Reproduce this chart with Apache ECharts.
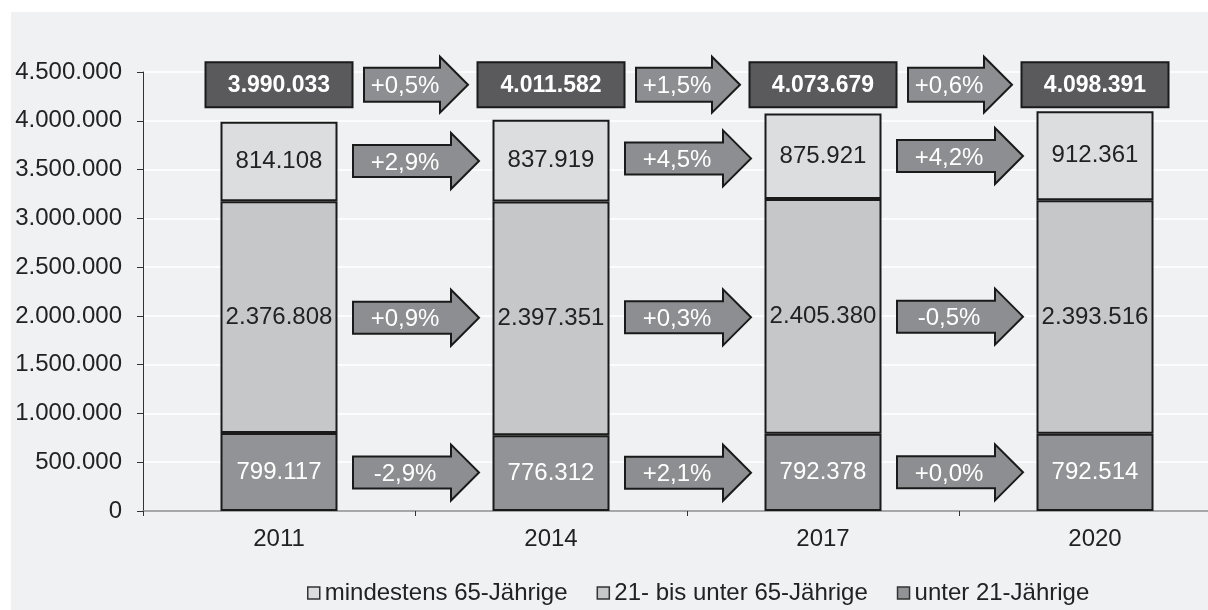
<!DOCTYPE html>
<html><head><meta charset="utf-8">
<script src="https://cdn.jsdelivr.net/npm/echarts@6/dist/echarts.min.js"></script>
<style>html,body{margin:0;padding:0;background:#fff}#c{width:1208px;height:610px}</style>
</head><body><div id="c"></div>
<script>
const years = ['2011', '2014', '2017', '2020'];
const unter21 = [799117, 776312, 792378, 792514];
const mitte = [2376808, 2397351, 2405380, 2393516];
const senioren = [814108, 837919, 875921, 912361];
const totals = [3990033, 4011582, 4073679, 4098391];
const changeTotal = ['+0,5%', '+1,5%', '+0,6%'];
const changeSenioren = ['+2,9%', '+4,5%', '+4,2%'];
const changeMitte = ['+0,9%', '+0,3%', '-0,5%'];
const changeUnter21 = ['-2,9%', '+2,1%', '+0,0%'];
const seriesNames = ['mindestens 65-Jährige', '21- bis unter 65-Jährige', 'unter 21-Jährige'];

const FONT = '"Liberation Sans", Arial, sans-serif';
const TOTAL_ROW = 4370000;
function fmt(v) { return String(Math.round(v)).replace(/\B(?=(\d{3})+(?!\d))/g, '.'); }

// arrow rows: y value = midpoint of segment averaged between adjacent bars
const arrowData = [];
for (let i = 0; i < 3; i++) {
  const m = j => unter21[j] / 2;
  arrowData.push([i, (m(i) + m(i + 1)) / 2, changeUnter21[i], 0]);
  const mm = j => unter21[j] + mitte[j] / 2;
  arrowData.push([i, (mm(i) + mm(i + 1)) / 2, changeMitte[i], 0]);
  const ms = j => unter21[j] + mitte[j] + senioren[j] / 2;
  arrowData.push([i, (ms(i) + ms(i + 1)) / 2, changeSenioren[i], 0]);
  arrowData.push([i, TOTAL_ROW, changeTotal[i], 1]);
}
const totalData = totals.map((t, i) => [i, TOTAL_ROW, fmt(t)]);

function arrowItem(params, api) {
  const i = api.value(0), y = api.value(1), kind = api.value(3);
  const p0 = api.coord([i, y]), p1 = api.coord([i + 1, y]);
  const cx = (p0[0] + p1[0]) / 2 + 1, cy = p0[1];
  const len = kind ? 104 : 126, bh = kind ? 17 : 16, hh = 28, hl = 28;
  const x0 = cx - len / 2, x1 = cx + len / 2, xh = x1 - hl;
  const pts = [[x0, cy - bh], [xh, cy - bh], [xh, cy - hh], [x1, cy], [xh, cy + hh], [xh, cy + bh], [x0, cy + bh]];
  return {
    type: 'group',
    children: [
      { type: 'polygon', shape: { points: pts }, style: { fill: '#8d8e91', stroke: '#1a1a1a', lineWidth: 2 } },
      { type: 'text', style: { text: arrowData[params.dataIndex][2], x: (x0 + xh) / 2 + 3, y: cy + 2, align: 'center', verticalAlign: 'middle', fill: '#fff', font: '24px ' + FONT } }
    ]
  };
}
function totalItem(params, api) {
  const i = api.value(0), y = api.value(1);
  const p = api.coord([i, y]);
  const w = 147, h = 45;
  return {
    type: 'group',
    children: [
      { type: 'rect', shape: { x: p[0] - w / 2, y: p[1] - h / 2, width: w, height: h }, style: { fill: '#5a5a5c', stroke: '#1a1a1a', lineWidth: 2 } },
      { type: 'text', style: { text: totalData[params.dataIndex][2], x: p[0], y: p[1] + 1, align: 'center', verticalAlign: 'middle', fill: '#fff', font: 'bold 23px ' + FONT } }
    ]
  };
}

const barBase = {
  type: 'bar', stack: 'all', barWidth: 117,
  label: { show: true, position: 'inside', fontFamily: FONT, fontSize: 24, formatter: p => fmt(p.value) },
};

const chart = echarts.init(document.getElementById('c'), null, { renderer: 'canvas' });
chart.setOption({
  animation: false,
  backgroundColor: '#fff',
  graphic: { elements: [{ type: 'rect', z: -100, silent: true, shape: { x: 11, y: 12, width: 1197, height: 598 }, style: { fill: '#f0f1f3' } }] },
  textStyle: { fontFamily: FONT },
  legend: {
    data: seriesNames, top: 576, left: 302, itemWidth: 12, itemHeight: 12, itemGap: 29,
    icon: 'rect',
    itemStyle: { borderColor: '#333', borderWidth: 1.5 },
    textStyle: { fontFamily: FONT, fontSize: 24, color: '#222' }
  },
  grid: { left: 143, width: 1088, top: 72, bottom: 99, outerBoundsMode: 'none', containLabel: false },
  xAxis: {
    type: 'category', data: years,
    axisLine: { lineStyle: { color: '#8a8a8a', width: 1.5 } },
    axisTick: { show: true, length: 5, lineStyle: { color: '#333' } },
    axisLabel: { fontSize: 24, color: '#222', margin: 16, fontFamily: FONT }
  },
  yAxis: {
    type: 'value', min: 0, max: 4500000, interval: 500000,
    axisLine: { show: true, lineStyle: { color: '#333' } },
    axisTick: { show: true, length: 6, lineStyle: { color: '#333' } },
    splitLine: { lineStyle: { color: '#fff', width: 1.5 } },
    axisLabel: { fontSize: 24, color: '#222', margin: 21, fontFamily: FONT, formatter: v => fmt(v) }
  },
  series: [
    Object.assign({}, barBase, { name: seriesNames[2], data: unter21,
      itemStyle: { color: '#929396', borderColor: '#1a1a1a', borderWidth: 2 },
      label: Object.assign({}, barBase.label, { color: '#fff' }) }),
    Object.assign({}, barBase, { name: seriesNames[1], data: mitte,
      itemStyle: { color: '#c6c7c9', borderColor: '#1a1a1a', borderWidth: 2 },
      label: Object.assign({}, barBase.label, { color: '#222' }) }),
    Object.assign({}, barBase, { name: seriesNames[0], data: senioren,
      itemStyle: { color: '#dcdddf', borderColor: '#1a1a1a', borderWidth: 2 },
      label: Object.assign({}, barBase.label, { color: '#222' }) }),
    { type: 'custom', renderItem: arrowItem, data: arrowData, clip: false, z: 5, silent: true },
    { type: 'custom', renderItem: totalItem, data: totalData, clip: false, z: 5, silent: true }
  ]
});
</script></body></html>
